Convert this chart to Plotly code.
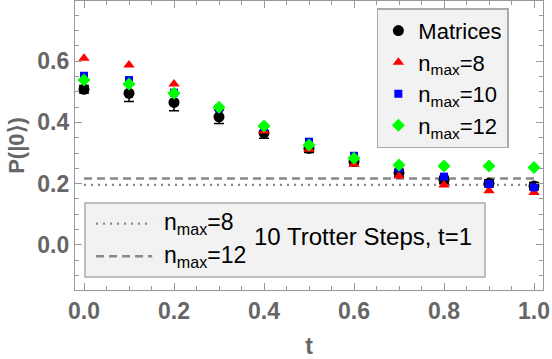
import plotly.graph_objects as go

t = [0.0, 0.1, 0.2, 0.3, 0.4, 0.5, 0.6, 0.7, 0.8, 0.9, 1.0]
matrices = [0.508, 0.495, 0.465, 0.418, 0.366, 0.315, 0.272, 0.235, 0.212, 0.201, 0.192]
matrices_err = [0.012, 0.027, 0.027, 0.022, 0.018, 0.013, 0.013, 0.012, 0.012, 0.012, 0.012]
nmax8 = [0.609, 0.587, 0.525, 0.450, 0.372, 0.312, 0.263, 0.225, 0.196, 0.177, 0.171]
nmax10 = [0.552, 0.538, 0.497, 0.445, 0.385, 0.337, 0.291, 0.250, 0.223, 0.199, 0.188]
nmax12 = [0.538, 0.525, 0.495, 0.449, 0.388, 0.326, 0.283, 0.261, 0.258, 0.258, 0.253]
line_t = [0.0, 1.0]
trotter8 = 0.196
trotter12 = 0.217

GRAY = "#666666"
FONT = "Liberation Sans, Arial"
fig = go.Figure()

fig.add_trace(go.Scatter(x=line_t, y=[trotter8, trotter8], mode="lines",
                         line=dict(color="#888888", width=2.2, dash="2px,5px"), showlegend=False))
fig.add_trace(go.Scatter(x=line_t, y=[trotter12, trotter12], mode="lines",
                         line=dict(color="#888888", width=2.5, dash="8px,5px"), showlegend=False))

fig.add_trace(go.Scatter(x=t, y=matrices, mode="markers", name="Matrices",
                         marker=dict(symbol="circle", size=11, color="black"),
                         error_y=dict(type="data", array=matrices_err, color="black", thickness=1.5, width=5)))
fig.add_trace(go.Scatter(x=t, y=nmax8, mode="markers", name="n<sub>max</sub>=8",
                         marker=dict(symbol="triangle-up", size=10, color="#ff0000")))
fig.add_trace(go.Scatter(x=t, y=nmax10, mode="markers", name="n<sub>max</sub>=10",
                         marker=dict(symbol="square", size=8, color="#0000ff")))
fig.add_trace(go.Scatter(x=t, y=nmax12, mode="markers", name="n<sub>max</sub>=12",
                         marker=dict(symbol="diamond", size=10, color="#00ff00")))

axis_common = dict(
    showline=True, linecolor="#999999", linewidth=1.2, mirror="allticks",
    ticks="inside", ticklen=7, tickcolor="#999999", tickwidth=1,
    showgrid=False, zeroline=False,
    tickfont=dict(family=FONT, size=23, color=GRAY, weight="bold"),
)

fig.update_xaxes(range=[-0.02, 1.02], tickvals=[0, 0.2, 0.4, 0.6, 0.8, 1.0], tickformat=".1f",
                 minor=dict(dtick=0.05, ticks="inside", ticklen=4, tickcolor="#999999"),
                 title=dict(text="t", font=dict(family=FONT, size=23, color=GRAY, weight="bold"), standoff=16),
                 **axis_common)
fig.update_yaxes(range=[-0.147, 0.796], tickvals=[0.0, 0.2, 0.4, 0.6], tickformat=".1f",
                 minor=dict(dtick=0.05, ticks="inside", ticklen=4, tickcolor="#999999"),
                 title=dict(text="P(|0⟩)", font=dict(family=FONT, size=22, color=GRAY, weight="bold"), standoff=6),
                 **axis_common)

# lower annotation box
fig.add_shape(type="rect", xref="paper", yref="paper", x0=0.0214, x1=0.876, y0=0.045, y1=0.301,
              fillcolor="#f2f2f2", line=dict(color="#aaaaaa", width=1.5), layer="below")
fig.add_shape(type="line", xref="paper", yref="paper", x0=0.045, x1=0.165, y0=0.23, y1=0.23,
              line=dict(color="#888888", width=2.2, dash="2px,5px"))
fig.add_shape(type="line", xref="paper", yref="paper", x0=0.045, x1=0.165, y0=0.117, y1=0.117,
              line=dict(color="#888888", width=2.5, dash="8px,5px"))
LF = dict(family=FONT, size=23, color="black")
fig.add_annotation(xref="paper", yref="paper", x=0.186, y=0.23, text="n<sub>max</sub>=8",
                   showarrow=False, xanchor="left", yanchor="middle", font=LF)
fig.add_annotation(xref="paper", yref="paper", x=0.186, y=0.117, text="n<sub>max</sub>=12",
                   showarrow=False, xanchor="left", yanchor="middle", font=LF)
fig.add_annotation(xref="paper", yref="paper", x=0.378, y=0.185, text="10 Trotter Steps, t=1",
                   showarrow=False, xanchor="left", yanchor="middle",
                   font=dict(family=FONT, size=24, color="black"))

fig.update_layout(
    width=552, height=359,
    margin=dict(l=75, r=9, t=1, b=69),
    plot_bgcolor="white", paper_bgcolor="white",
    legend=dict(x=0.645, y=0.975, xanchor="left", yanchor="top",
                bgcolor="#f2f2f2", bordercolor="#aaaaaa", borderwidth=1.5,
                font=dict(family=FONT, size=22, color="black"),
                itemwidth=30, tracegroupgap=0),
)

fig.write_html("out.html", config={"displayModeBar": False},
               post_script="document.body.style.margin='0';")
